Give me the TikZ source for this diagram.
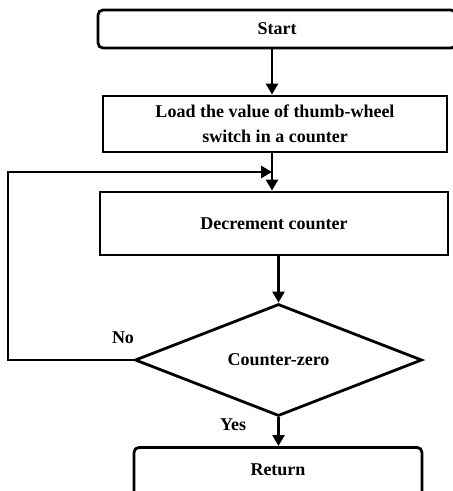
\documentclass[tikz,border=0pt]{standalone}
\usepackage{fontspec}
\setmainfont{Liberation Serif}
\usetikzlibrary{shapes.geometric, arrows.meta, positioning}

\begin{document}
\begin{tikzpicture}[
    x=1pt, y=-1pt,
    >={Triangle[width=12pt,length=11pt]},
    every node/.style={font=\bfseries\fontsize{18}{25}\selectfont},
    termbox/.style={draw, line width=2.8pt, rounded corners=5pt, align=center, inner sep=0pt},
    procbox/.style={draw, line width=2.8pt, align=center, inner sep=0pt},
    testbox/.style={draw, line width=2.8pt, diamond, aspect=2.56, inner sep=0pt},
    flow/.style={->, line width=2.8pt}
]
    \useasboundingbox (0,0) rectangle (453,491);
    \clip (0,0) rectangle (453,491);

    \node[termbox, minimum width=358pt, minimum height=38pt] (start) at (277,29) {Start};
    \node[procbox, minimum width=344pt, minimum height=56pt] (load) at (275,124)
        {Load the value of thumb-wheel\\switch in a counter};
    \node[procbox, minimum width=348pt, minimum height=63pt] (dec) at (274,223.5)
        {Decrement counter};
    \node[testbox, minimum width=287pt, minimum height=112pt] (test) at (278.5,360)
        {Counter-zero};
    \node[termbox, anchor=north, minimum width=288pt, text height=28pt, text depth=32pt] (ret)
        at (278,446) {Return};

    \node (no) at (123,338) {No};
    \node (yes) at (233,425) {Yes};

    \coordinate (loop) at (8,172);
    \coordinate (join) at (272,172);

    \draw[flow] (join |- start.south) -- (join |- load.north);
    \draw[flow] (join |- load.south) -- (join |- dec.north);
    \draw[flow] (test.north |- dec.south) -- (test.north);
    \draw[flow] (test.west) -| (loop) -- (join);
    \draw[flow] (test.south) -- (test.south |- ret.north);
\end{tikzpicture}
\end{document}
